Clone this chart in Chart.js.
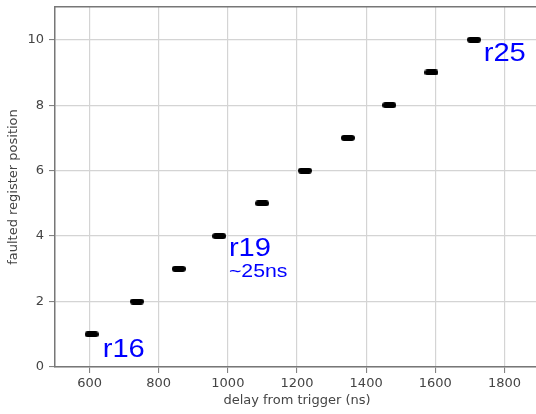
<!DOCTYPE html>
<html>
<head>
<meta charset="utf-8">
<script src="https://cdn.jsdelivr.net/npm/chart.js@4/dist/chart.umd.min.js"></script>
<style>
  html, body { margin: 0; padding: 0; background: #fff; overflow: hidden; }
  canvas { display: block; }
</style>
</head>
<body>
<canvas id="myChart" width="540" height="414"></canvas>
<script>
// data
const delays = [606, 737, 858, 975, 1099, 1223, 1347, 1467, 1589, 1712];
const positions = [1, 2, 3, 4, 5, 6, 7, 8, 9, 10];
const xTicks = [600, 800, 1000, 1200, 1400, 1600, 1800];
const yTicks = [0, 2, 4, 6, 8, 10];

// blue notes placed in data units
const notes = [
  { text: 'r16', x: 638, y: 0.31, size: 26 },
  { text: 'r19', x: 1003, y: 3.38, size: 26 },
  { text: '~25ns', x: 1003, y: 2.75, size: 19 },
  { text: 'r25', x: 1740, y: 9.35, size: 26 }
];

// little black stadium used as the marker
const dot = document.createElement('canvas');
dot.width = 14; dot.height = 6;
(function () {
  const c = dot.getContext('2d');
  c.fillStyle = '#000';
  c.beginPath();
  c.moveTo(3, 0); c.lineTo(11, 0);
  c.arc(11, 3, 3, -Math.PI / 2, Math.PI / 2);
  c.lineTo(3, 6);
  c.arc(3, 3, 3, Math.PI / 2, Math.PI * 1.5);
  c.fill();
})();

const notePlugin = {
  id: 'notes',
  afterDatasetsDraw(chart) {
    const ctx = chart.ctx;
    const xs = chart.scales.x, ys = chart.scales.y;
    notes.forEach(n => {
      ctx.save();
      ctx.fillStyle = '#0000ff';
      ctx.textBaseline = 'alphabetic';
      ctx.textAlign = 'left';
      ctx.font = n.size + 'px "Liberation Sans", Arial, sans-serif';
      // the original text is a bit wide for its height
      ctx.translate(xs.getPixelForValue(n.x), ys.getPixelForValue(n.y));
      ctx.scale(1.12, 1);
      ctx.fillText(n.text, 0, 0);
      ctx.restore();
    });
  }
};

const tickFont = { family: 'DejaVu Sans', size: 13 };
const titleFont = { family: 'DejaVu Sans', size: 13 };
const gridOpts = { color: '#d4d4d4', lineWidth: 1.2, tickColor: '#777', tickLength: 6, tickWidth: 1 };
const borderOpts = { color: '#777', width: 1.5 };
const noPad = s => { s.paddingLeft = 0; s.paddingRight = 0; s.paddingTop = 0; s.paddingBottom = 0; };

const config = {
  type: 'scatter',
  data: {
    datasets: [{
      data: delays.map((d, i) => ({ x: d, y: positions[i] })),
      pointStyle: dot,
      pointRadius: 7,
      backgroundColor: '#000',
      borderColor: '#000'
    }]
  },
  options: {
    responsive: false,
    animation: false,
    layout: { autoPadding: false, padding: { top: 7, right: 1, left: 0, bottom: 0 } },
    plugins: { legend: { display: false }, tooltip: { enabled: false } },
    scales: {
      x: {
        type: 'linear', position: 'bottom', min: 500, max: 1900,
        afterBuildTicks: s => { s.ticks = xTicks.map(v => ({ value: v })); },
        afterFit: s => { s.height = 47; noPad(s); },
        ticks: { font: tickFont, color: '#444', padding: 3, maxRotation: 0, callback: v => String(v) },
        grid: gridOpts,
        border: borderOpts,
        title: { display: true, text: 'delay from trigger (ns)', font: titleFont, color: '#444', padding: { top: 0, bottom: 6 } }
      },
      x2: {
        type: 'linear', position: 'top', min: 500, max: 1900,
        afterBuildTicks: s => { s.ticks = xTicks.map(v => ({ value: v })); },
        afterFit: s => { s.height = 0; noPad(s); },
        ticks: { display: false },
        grid: { display: false, drawTicks: false },
        border: borderOpts
      },
      y: {
        type: 'linear', min: 0, max: 11,
        afterBuildTicks: s => { s.ticks = yTicks.map(v => ({ value: v })); },
        afterFit: s => { s.width = 55; noPad(s); },
        ticks: { font: tickFont, color: '#444', padding: 5 },
        grid: gridOpts,
        border: borderOpts,
        title: { display: true, text: 'faulted register position', font: titleFont, color: '#444', padding: { top: 6, bottom: 0 } }
      }
    }
  },
  plugins: [notePlugin]
};

const myChart = new Chart(document.getElementById('myChart'), config);
</script>
</body>
</html>
